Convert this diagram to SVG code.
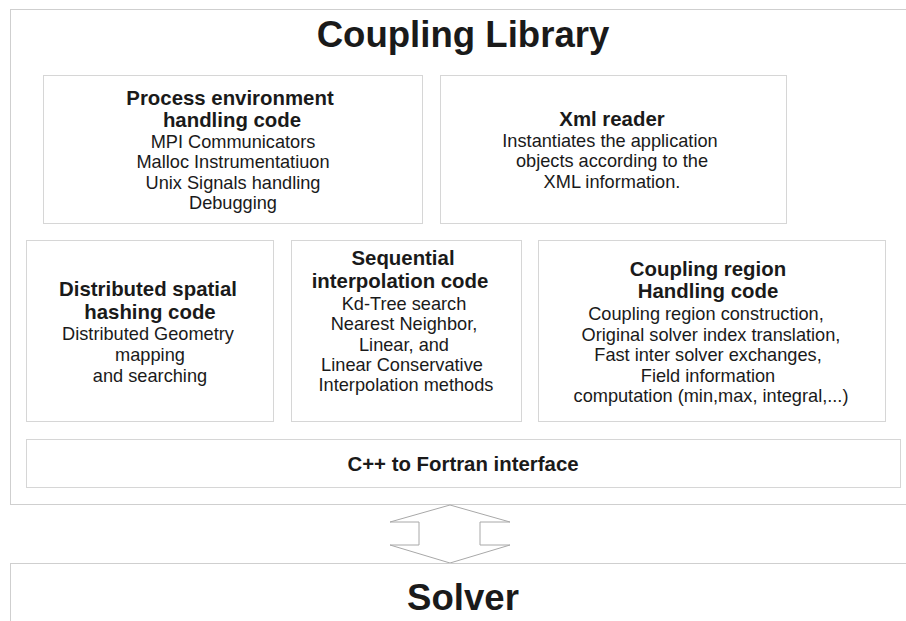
<svg xmlns="http://www.w3.org/2000/svg" width="906" height="621" viewBox="0 0 906 621">
<style>
.box{fill:#fff;stroke:#d6d6d6;stroke-width:1}
.outer{fill:#fff;stroke:#cfcfcf;stroke-width:1}
text{font-family:"Liberation Sans",Arial,sans-serif;fill:#1a1a1a;text-anchor:middle}
.h{font-weight:bold;font-size:20.4px}
.t{font-size:18.2px}
.big{font-weight:bold;font-size:36.6px}
</style>
<rect width="906" height="621" fill="#fff"/>
<g id="coupling-library">
<rect class="outer" x="10.5" y="9.5" width="910" height="495"/>
<text class="big" x="463" y="47">Coupling Library</text>
</g>
<g id="process-env">
<rect class="box" x="43.5" y="75.5" width="379" height="148"/>
<text class="h" x="230" y="105">Process environment</text>
<text class="h" x="232" y="127">handling code</text>
<text class="t" x="233" y="148">MPI Communicators</text>
<text class="t" x="233" y="168">Malloc Instrumentatiuon</text>
<text class="t" x="233" y="189">Unix Signals handling</text>
<text class="t" x="233" y="209">Debugging</text>
</g>
<g id="xml-reader">
<rect class="box" x="440.5" y="75.5" width="346" height="148"/>
<text class="h" x="612" y="126">Xml reader</text>
<text class="t" x="610" y="147">Instantiates the application</text>
<text class="t" x="612" y="167">objects according to the</text>
<text class="t" x="612" y="188">XML information.</text>
</g>
<g id="distributed">
<rect class="box" x="26.5" y="240.5" width="247" height="181"/>
<text class="h" x="148" y="296">Distributed spatial</text>
<text class="h" x="150" y="319">hashing code</text>
<text class="t" x="148" y="340">Distributed Geometry</text>
<text class="t" x="150" y="361">mapping</text>
<text class="t" x="150" y="382">and searching</text>
</g>
<g id="sequential">
<rect class="box" x="291.5" y="240.5" width="230" height="181"/>
<text class="h" x="403" y="265">Sequential</text>
<text class="h" x="400" y="288">interpolation code</text>
<text class="t" x="404" y="310">Kd-Tree search</text>
<text class="t" x="404" y="330">Nearest Neighbor,</text>
<text class="t" x="404" y="351">Linear, and</text>
<text class="t" x="402" y="371">Linear Conservative</text>
<text class="t" x="406" y="391">Interpolation methods</text>
</g>
<g id="coupling-region">
<rect class="box" x="538.5" y="240.5" width="347" height="181"/>
<text class="h" x="708" y="276">Coupling region</text>
<text class="h" x="708" y="298">Handling code</text>
<text class="t" x="706" y="320">Coupling region construction,</text>
<text class="t" x="711" y="341">Original solver index translation,</text>
<text class="t" x="708" y="361">Fast inter solver exchanges,</text>
<text class="t" x="708" y="382">Field information</text>
<text class="t" x="711" y="402">computation (min,max, integral,...)</text>
</g>
<g id="fortran-interface">
<rect class="box" x="26.5" y="439.5" width="874" height="48"/>
<text class="h" x="463" y="471">C++ to Fortran interface</text>
</g>
<g id="connectors">
<polygon points="450,505 510,522 480,522 480,545 510,545 450,563 390,545 419,545 419,522 390,522" fill="#fff" stroke="#a8a8a8" stroke-width="1"/>
</g>
<g id="solver">
<rect class="outer" x="10.5" y="563.5" width="910" height="80"/>
<text class="big" x="463" y="610">Solver</text>
</g>
</svg>
